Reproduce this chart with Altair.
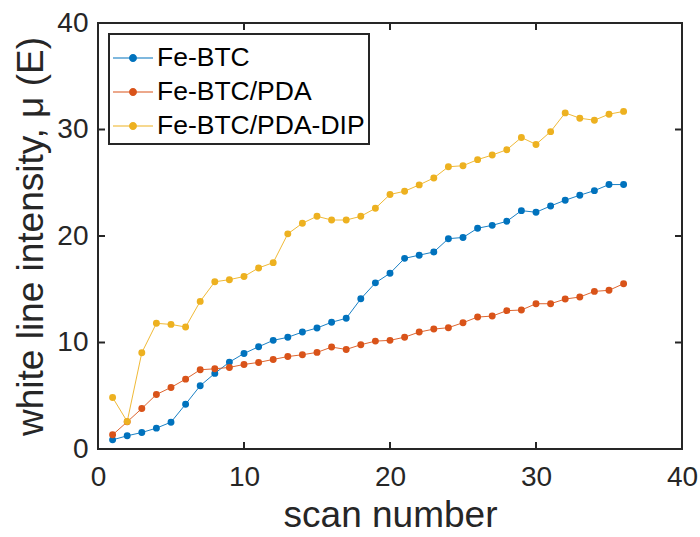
import altair as alt
import pandas as pd

# White line intensity per scan for the three samples
scans = list(range(1, 37))
fe_btc = [0.86, 1.24, 1.55, 1.96, 2.52, 4.21, 5.94, 7.10, 8.16, 8.97, 9.60, 10.20,
          10.49, 10.98, 11.36, 11.90, 12.27, 14.10, 15.60, 16.50, 17.90, 18.20, 18.50, 19.75,
          19.86, 20.73, 21.00, 21.38, 22.38, 22.23, 22.82, 23.36, 23.83, 24.26, 24.83, 24.83]
fe_btc_pda = [1.33, 2.55, 3.80, 5.12, 5.78, 6.56, 7.44, 7.53, 7.66, 7.94, 8.13, 8.41,
              8.68, 8.85, 9.07, 9.57, 9.35, 9.79, 10.13, 10.20, 10.50, 10.98, 11.26, 11.39,
              11.86, 12.39, 12.48, 12.99, 13.05, 13.64, 13.64, 14.08, 14.27, 14.80, 14.90, 15.52]
fe_btc_pda_dip = [4.84, 2.58, 9.04, 11.80, 11.70, 11.45, 13.86, 15.70, 15.90, 16.20, 17.00, 17.50,
                  20.20, 21.20, 21.85, 21.50, 21.50, 21.85, 22.60, 23.90, 24.20, 24.80, 25.45, 26.50,
                  26.60, 27.17, 27.60, 28.10, 29.25, 28.60, 29.80, 31.56, 31.06, 30.87, 31.44, 31.70]

series_names = ["Fe-BTC", "Fe-BTC/PDA", "Fe-BTC/PDA-DIP"]
series_colors = ["#0072BD", "#D95319", "#EDB120"]
tick_values = [0, 10, 20, 30, 40]

rows = []
for name, vals in zip(series_names, [fe_btc, fe_btc_pda, fe_btc_pda_dip]):
    for s, v in zip(scans, vals):
        rows.append({"scan": s, "intensity": v, "sample": name})
df = pd.DataFrame(rows)
ticks_df = pd.DataFrame({"t": tick_values})

W, H = 584, 426
TICK = 7
FONT = "Liberation Sans"
INK = "#262626"

xscale = alt.Scale(domain=[0, 40], nice=False, zero=False)
yscale = alt.Scale(domain=[0, 40], nice=False, zero=False)
cscale = alt.Scale(domain=series_names, range=series_colors)

# legend symbol: short line with a dot in the middle (filled path)
legend_symbol = ("M-1,-0.03H1V0.03H-1Z "
                 "M0.2,0A0.2,0.2,0,1,1,-0.2,0A0.2,0.2,0,1,1,0.2,0Z")

legend = alt.Legend(
    title=None,
    orient="none",
    legendX=11,
    legendY=11,
    symbolType=legend_symbol,
    symbolSize=1600,
    symbolStrokeWidth=0,
    symbolOpacity=1,
    labelFont=FONT,
    labelFontSize=26.5,
    labelColor="#000000",
    labelLimit=400,
    labelOffset=4,
    rowPadding=-6.5,
    padding=4,
    strokeColor=INK,
    fillColor="#ffffff",
)

xaxis = alt.Axis(orient="bottom", values=tick_values, ticks=False, domain=False,
                 grid=False, labelFont=FONT, labelFontSize=28, labelColor=INK,
                 labelPadding=14, labelFlush=False, labelOverlap=False,
                 title="scan number", titleFont=FONT, titleFontSize=37,
                 titleFontWeight="normal", titleColor=INK, titlePadding=6)
yaxis = alt.Axis(orient="left", values=tick_values, ticks=False, domain=False,
                 grid=False, labelFont=FONT, labelFontSize=28, labelColor=INK,
                 labelPadding=10, labelFlush=False, labelOverlap=False,
                 title="white line intensity, μ (E)", titleFont=FONT,
                 titleFontSize=37, titleFontWeight="normal", titleColor=INK,
                 titlePadding=6)

lines = alt.Chart(df).mark_line(strokeWidth=0.9).encode(
    x=alt.X("scan:Q", scale=xscale, axis=xaxis),
    y=alt.Y("intensity:Q", scale=yscale, axis=yaxis),
    color=alt.Color("sample:N", scale=cscale, legend=legend),
    detail="sample:N",
)

points = alt.Chart(df).mark_circle(size=48, opacity=1).encode(
    x=alt.X("scan:Q", scale=xscale),
    y=alt.Y("intensity:Q", scale=yscale),
    color=alt.Color("sample:N", scale=cscale, legend=legend),
)

# inward tick marks on all four sides of the frame
tick_style = dict(color=INK, strokeWidth=2)
bottom_ticks = alt.Chart(ticks_df).mark_rule(**tick_style).encode(
    x=alt.X("t:Q", scale=xscale), y=alt.value(H), y2=alt.value(H - TICK))
top_ticks = alt.Chart(ticks_df).mark_rule(**tick_style).encode(
    x=alt.X("t:Q", scale=xscale), y=alt.value(0), y2=alt.value(TICK))
left_ticks = alt.Chart(ticks_df).mark_rule(**tick_style).encode(
    y=alt.Y("t:Q", scale=yscale), x=alt.value(0), x2=alt.value(TICK))
right_ticks = alt.Chart(ticks_df).mark_rule(**tick_style).encode(
    y=alt.Y("t:Q", scale=yscale), x=alt.value(W), x2=alt.value(W - TICK))

chart = alt.layer(
    bottom_ticks, top_ticks, left_ticks, right_ticks, lines, points
).properties(
    width=W,
    height=H,
    autosize=alt.AutoSizeParams(type="none"),
    padding={"left": 98, "top": 23, "right": 18, "bottom": 88},
    background="#ffffff",
).configure_view(
    stroke=INK,
    strokeWidth=2,
).configure_legend(
    strokeWidth=2,
)

chart.save("out.html", embed_options={"renderer": "svg", "actions": False})
